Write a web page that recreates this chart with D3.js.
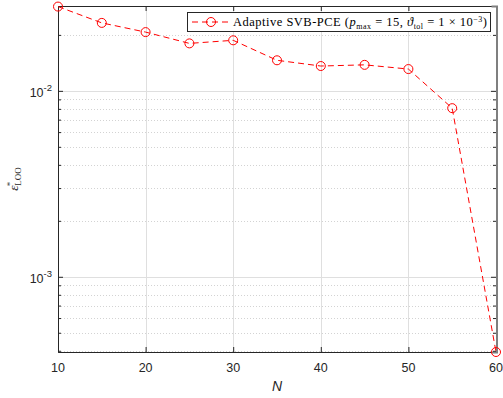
<!DOCTYPE html>
<html><head><meta charset="utf-8">
<script src="https://cdn.jsdelivr.net/npm/d3@7"></script>
<style>body{margin:0;background:#fff}svg{display:block}</style>
</head><body>
<svg id="c" width="503" height="398"></svg>
<script>
const N = [10, 15, 20, 25, 30, 35, 40, 45, 50, 55, 60];
const eLOO = [0.0284, 0.0232, 0.0207, 0.0180, 0.0187, 0.0146, 0.0136, 0.0138, 0.0131, 0.00807, 0.000394];
const xTicks = [10, 20, 30, 40, 50, 60];
const yTicks = [1e-3, 1e-2];
const yTickLabels = ["-3", "-2"];
const yDomain = [0.000394, 0.0286];

const svg = d3.select("#c");
const L = 58, R = 496, T = 6, B = 352;
const x = d3.scaleLinear().domain([10, 60]).range([L, R]);
const y = d3.scaleLog().domain(yDomain).range([B, T]);
const axisCol = "#262626";

const minors = [];
for (let e = -4; e <= -1; e++) for (let m = 2; m <= 9; m++) {
  const v = m * Math.pow(10, e);
  if (v >= yDomain[0] && v <= yDomain[1]) minors.push(v);
}
const g = svg.append("g");
g.selectAll(".mg").data(minors).join("line")
  .attr("x1", L).attr("x2", R).attr("y1", d => Math.round(y(d)) + 0.5).attr("y2", d => Math.round(y(d)) + 0.5)
  .attr("stroke", "#c8c8c8").attr("stroke-width", 0.8).attr("stroke-dasharray", "1,2");
g.selectAll(".yg").data(yTicks).join("line")
  .attr("x1", L).attr("x2", R).attr("y1", d => Math.round(y(d)) + 0.5).attr("y2", d => Math.round(y(d)) + 0.5)
  .attr("stroke", "#dfdfdf").attr("stroke-width", 1);
g.selectAll(".xg").data(xTicks).join("line")
  .attr("y1", T).attr("y2", B).attr("x1", d => Math.round(x(d)) + 0.5).attr("x2", d => Math.round(x(d)) + 0.5)
  .attr("stroke", "#dfdfdf").attr("stroke-width", 1);

const xb = svg.append("g").attr("transform", `translate(0,${B})`)
  .call(d3.axisBottom(x).tickValues(xTicks).tickSize(-5).tickFormat(""));
const xt = svg.append("g").attr("transform", `translate(0,${T})`)
  .call(d3.axisTop(x).tickValues(xTicks).tickSize(-5).tickFormat(""));
const yl = svg.append("g").attr("transform", `translate(${L},0)`)
  .call(d3.axisLeft(y).tickValues(yTicks).tickSize(-5).tickFormat(""));
const yr = svg.append("g").attr("transform", `translate(${R},0)`)
  .call(d3.axisRight(y).tickValues(yTicks).tickSize(-5).tickFormat(""));
const ylm = svg.append("g").attr("transform", `translate(${L},0)`)
  .call(d3.axisLeft(y).tickValues(minors).tickSize(-3).tickFormat(""));
const yrm = svg.append("g").attr("transform", `translate(${R},0)`)
  .call(d3.axisRight(y).tickValues(minors).tickSize(-3).tickFormat(""));
[xb, xt, yl, yr, ylm, yrm].forEach(a => {
  a.selectAll("path").attr("stroke", axisCol).attr("stroke-width", 1);
  a.selectAll("line").attr("stroke", axisCol).attr("stroke-width", 1);
});
[ylm, yrm].forEach(a => a.select("path").remove());
yr.select("path").attr("stroke", "#7f7f7f").attr("stroke-width", 2).attr("transform", "translate(0.5,0)");

svg.append("g").selectAll("text").data(xTicks).join("text")
  .attr("x", d => x(d)).attr("y", 372).attr("text-anchor", "middle")
  .attr("font-family", "Liberation Sans, Arial, sans-serif").attr("font-size", 12.5)
  .attr("fill", axisCol).text(d => d);
const yt = svg.append("g").selectAll("text").data(yTicks).join("text")
  .attr("x", 52).attr("y", d => y(d) + 6).attr("text-anchor", "end")
  .attr("font-family", "Liberation Sans, Arial, sans-serif").attr("font-size", 12.5)
  .attr("fill", axisCol);
yt.append("tspan").text("10");
yt.append("tspan").attr("dy", -6).attr("font-size", 9.5).text((d, i) => yTickLabels[i]);

svg.append("text").attr("x", (L + R) / 2).attr("y", 391).attr("text-anchor", "middle")
  .attr("font-family", "Liberation Sans, Arial, sans-serif").attr("font-style", "italic")
  .attr("font-size", 14).attr("fill", axisCol).text("N");
const yla = svg.append("text").attr("transform", `translate(18,${(T + B) / 2}) rotate(-90)`)
  .attr("text-anchor", "middle").attr("font-family", "Liberation Serif, serif")
  .attr("font-size", 13.5).attr("fill", axisCol);
yla.append("tspan").attr("font-style", "italic").text("ε");
yla.append("tspan").attr("dy", -5).attr("dx", -1).attr("font-size", 9).text("*");
yla.append("tspan").attr("dy", 8).attr("dx", -4).attr("font-size", 9).text("LOO");

const line = d3.line().x((d, i) => x(N[i])).y(d => y(d));
svg.append("path").datum(eLOO).attr("d", line).attr("fill", "none")
  .attr("stroke", "#ff0000").attr("stroke-width", 1).attr("stroke-dasharray", "6,4");
svg.append("g").selectAll("circle").data(eLOO).join("circle")
  .attr("cx", (d, i) => x(N[i])).attr("cy", d => y(d)).attr("r", 4.5)
  .attr("fill", "none").attr("stroke", "#ff0000").attr("stroke-width", 1);

const lg = svg.append("g");
lg.append("rect").attr("x", 187.5).attr("y", 12.5).attr("width", 303).attr("height", 19)
  .attr("fill", "#fff").attr("stroke", axisCol).attr("stroke-width", 1);
lg.append("line").attr("x1", 192).attr("x2", 229).attr("y1", 22).attr("y2", 22)
  .attr("stroke", "#ff0000").attr("stroke-width", 1).attr("stroke-dasharray", "6,4");
lg.append("circle").attr("cx", 211).attr("cy", 22).attr("r", 4.5)
  .attr("fill", "none").attr("stroke", "#ff0000").attr("stroke-width", 1);
const lt = lg.append("text").attr("x", 233).attr("y", 26)
  .attr("font-family", "Liberation Serif, serif").attr("font-size", 12.5).attr("fill", "#000")
  .attr("textLength", 254).attr("lengthAdjust", "spacing");
lt.append("tspan").text("Adaptive SVB-PCE (");
lt.append("tspan").attr("font-style", "italic").text("p");
lt.append("tspan").attr("dy", 2.5).attr("font-size", 8).text("max");
lt.append("tspan").attr("dy", -2.5).text(" = 15, ");
lt.append("tspan").attr("font-style", "italic").text("ϑ");
lt.append("tspan").attr("dy", 2.5).attr("font-size", 8).text("tol");
lt.append("tspan").attr("dy", -2.5).text(" = 1 × 10");
lt.append("tspan").attr("dy", -4.5).attr("font-size", 8).text("−3");
lt.append("tspan").attr("dy", 4.5).text(")");
</script>
</body></html>
